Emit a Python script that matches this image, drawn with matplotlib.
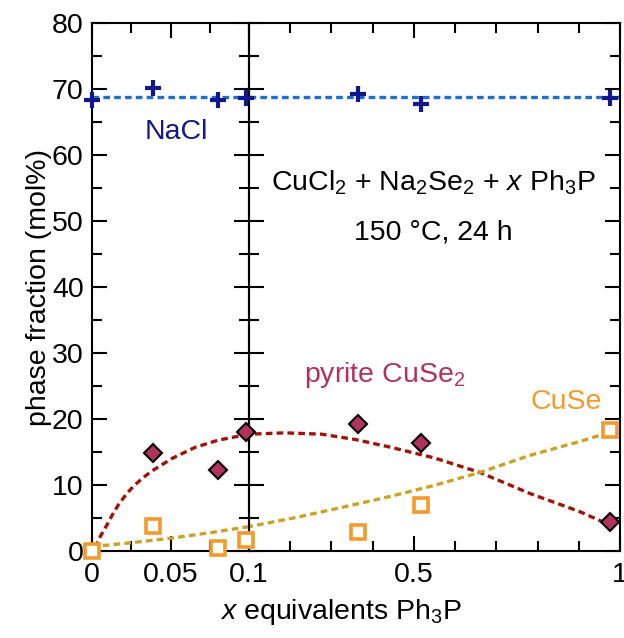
import matplotlib
matplotlib.use("Agg")
import matplotlib.pyplot as plt
from matplotlib.ticker import FixedLocator, FixedFormatter

plt.rcParams['font.family'] = ['Liberation Sans', 'DejaVu Sans']
plt.rcParams['mathtext.fontset'] = 'custom'
plt.rcParams['mathtext.rm'] = 'Liberation Sans'
plt.rcParams['mathtext.it'] = 'Liberation Sans:italic'
plt.rcParams['lines.scale_dashes'] = False

# ---- data ----
x_pts = [0.0, 0.0387, 0.080, 0.098, 0.365, 0.517, 0.975]
nacl = [68.3, 70.1, 68.3, 68.7, 69.3, 67.8, 68.7]
pyrite_x = [0.0387, 0.080, 0.098, 0.365, 0.517, 0.975]
pyrite = [14.8, 12.3, 18.1, 19.3, 16.3, 4.4]
cuse = [0.0, 3.8, 0.5, 1.7, 2.9, 7.0, 18.4]

nacl_fit = 68.8
pyrite_fit_x = [0.002, 0.0055, 0.0094, 0.013, 0.0168, 0.0215, 0.0263, 0.032, 0.038, 0.0508,
                0.0656, 0.0805, 0.1, 0.187, 0.276, 0.357, 0.438, 0.55, 0.66, 0.782, 0.903, 0.98]
pyrite_fit_y = [0.5, 2.3, 3.9, 5.5, 7.0, 8.5, 9.8, 11.0, 12.1, 14.0,
                15.7, 16.8, 17.7, 17.9, 17.7, 16.9, 15.8, 14.1, 11.9, 8.7, 5.95, 3.8]
cuse_fit_x = [0.0, 0.025, 0.049, 0.076, 0.1, 0.212, 0.325, 0.438, 0.547, 0.66, 0.782, 0.903, 0.98]
cuse_fit_y = [0.65, 1.26, 1.9, 2.8, 3.7, 5.05, 6.6, 8.2, 9.9, 11.9, 14.5, 16.6, 18.1]

C_NACL = '#10188c'
C_NACL_LINE = '#1f6fd1'
C_PYR = '#b2325e'
C_PYR_LINE = '#a01408'
C_CUSE = '#f39a2c'
C_CUSE_LINE = '#c9a227'
FS = 20.5

fig = plt.figure(figsize=(6.24, 6.38), dpi=100)
axL = fig.add_axes([92/624, 87/638, 157/624, 528/638])
axR = fig.add_axes([249/624, 87/638, 371/624, 528/638])
axR.patch.set_alpha(0)
axL.set_zorder(3)
axL.patch.set_alpha(0)


def sel(xs, ys, lo, hi):
    pairs = [(x, y) for x, y in zip(xs, ys) if lo <= x <= hi]
    return [p[0] for p in pairs], [p[1] for p in pairs]


dash = (4.8, 3.0)
for ax, lo, hi in ((axL, 0.0, 0.1), (axR, 0.1001, 1.0)):
    ax.axhline(nacl_fit, color=C_NACL_LINE, lw=2.4, dashes=dash, zorder=2)
    ax.plot(pyrite_fit_x, pyrite_fit_y, color=C_PYR_LINE, lw=2.4, dashes=dash, zorder=2)
    ax.plot(cuse_fit_x, cuse_fit_y, color=C_CUSE_LINE, lw=2.4, dashes=dash, zorder=2)
    xs, ys = sel(x_pts, nacl, lo, hi)
    ax.plot(xs, ys, ls='none', marker='+', ms=12, mew=3, color=C_NACL, clip_on=False, zorder=5)
    xs, ys = sel(pyrite_x, pyrite, lo, hi)
    ax.plot(xs, ys, ls='none', marker='D', ms=9.5, mfc=C_PYR, mec='black', mew=1.5, clip_on=False, zorder=5)
    xs, ys = sel(x_pts, cuse, lo, hi)
    ax.plot(xs, ys, ls='none', marker='s', ms=9.5, mfc='white', mec=C_CUSE, mew=2.6, clip_on=False, zorder=5)
    ax.set_ylim(0, 80)
    for s in ax.spines.values():
        s.set_linewidth(1.5)
    ax.tick_params(which='both', direction='in', top=True, right=True, width=1.5, labelsize=FS)
    ax.tick_params(axis='x', pad=8)
    ax.tick_params(axis='y', pad=6)
    ax.tick_params(which='major', length=11)
    ax.tick_params(which='minor', length=7)
    ax.yaxis.set_major_locator(FixedLocator([0, 10, 20, 30, 40, 50, 60, 70, 80]))
    ax.yaxis.set_minor_locator(FixedLocator([5, 15, 25, 35, 45, 55, 65, 75]))

axL.set_xlim(0, 0.1)
axL.xaxis.set_major_locator(FixedLocator([0, 0.05, 0.1]))
axL.xaxis.set_major_formatter(FixedFormatter(['0', '0.05', '0.1']))
axL.xaxis.set_minor_locator(FixedLocator([0.025, 0.075]))

axR.set_xlim(0.1, 1.0)
axR.xaxis.set_major_locator(FixedLocator([0.5, 1.0]))
axR.xaxis.set_major_formatter(FixedFormatter(['0.5', '1']))
axR.xaxis.set_minor_locator(FixedLocator([0.2, 0.3, 0.4, 0.6, 0.7, 0.8, 0.9]))
axR.tick_params(labelleft=False)

axL.set_ylabel('phase fraction (mol%)', fontsize=FS, labelpad=0)
fig.text(341/624, 1 - 612/638, '$x$ equivalents Ph$_3$P', fontsize=FS, ha='center', va='center')

axL.text(0.054, 63.5, 'NaCl', color=C_NACL, fontsize=FS, ha='center', va='center')
axR.text(0.547, 55.8, 'CuCl$_2$ + Na$_2$Se$_2$ + $x$ Ph$_3$P', fontsize=FS, ha='center', va='center')
axR.text(0.547, 48.2, '150 °C, 24 h', fontsize=FS, ha='center', va='center')
axR.text(0.43, 26.7, 'pyrite CuSe$_2$', color=C_PYR, fontsize=FS, ha='center', va='center')
axR.text(0.87, 22.6, 'CuSe', color=C_CUSE, fontsize=FS, ha='center', va='center')

fig.savefig('out.png', dpi=100)
